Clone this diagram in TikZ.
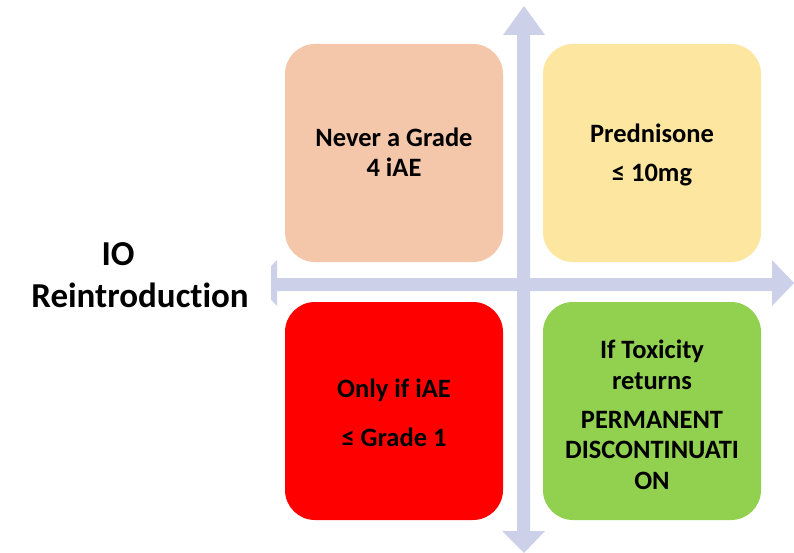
\documentclass[tikz,border=0pt]{standalone}
\usepackage{fontspec}
\setmainfont[Ligatures=NoCommon]{Carlito}
\begin{document}
\begin{tikzpicture}[x=1pt,y=-1pt,
  quad/.style={rounded corners=30pt, minimum width=218pt, minimum height=218pt, inner sep=0pt, draw=none},
  qtext/.style={align=center, inner sep=0pt, font=\bfseries\fontsize{26.5}{30.5}\selectfont},
  ltext/.style={inner sep=0pt, font=\bfseries\fontsize{35}{42}\selectfont},
  axis/.style={fill=axiscol, draw=none}]
\definecolor{axiscol}{RGB}{204,208,232}
\definecolor{peach}{RGB}{245,199,170}
\definecolor{pale}{RGB}{252,230,160}
\definecolor{grn}{RGB}{146,208,80}
\useasboundingbox (0,0) rectangle (794,553);
\fill[white] (0,0) rectangle (794,553);
% vertical axis
\path[axis] (517,35) -- (503,35) -- (524,6) -- (545,35) -- (530,35) -- (530,531) -- (545,531) -- (524,553) -- (502,531) -- (517,531) -- cycle;
% horizontal axis
\begin{scope}
\clip (271,0) rectangle (794,553);
\path[axis] (277,278) -- (277,260) -- (255,283) -- (277,306) -- (277,291) -- (772,291) -- (772,306) -- (794,283) -- (772,260) -- (772,278) -- cycle;
\end{scope}
% boxes
\node[quad, fill=peach] (tl) at (394,153) {};
\node[quad, fill=pale] (tr) at (652,153) {};
\node[quad, fill=red] (bl) at (394,411) {};
\node[quad, fill=grn] (br) at (652,411) {};
% texts
\node[qtext] (tlt) at (394,152) {Never a Grade\\4 iAE};
\node[qtext] (trt1) at (652,133) {Prednisone};
\node[qtext] (trt2) at (652,175) {≤ 10mg};
\node[qtext] (blt1) at (394,390) {Only if iAE};
\node[qtext] (blt2) at (394,437) {≤ Grade 1};
\node[qtext] (brt1) at (652,365) {If Toxicity\\returns};
\node[qtext] (brt2) at (652,450) {PERMANENT\\DISCONTINUATI\\ON};
\node[ltext, anchor=base] (io) at (118,265) {IO};
\node[ltext, anchor=base] (reint) at (140,307) {Reintroduction};
\end{tikzpicture}
\end{document}
